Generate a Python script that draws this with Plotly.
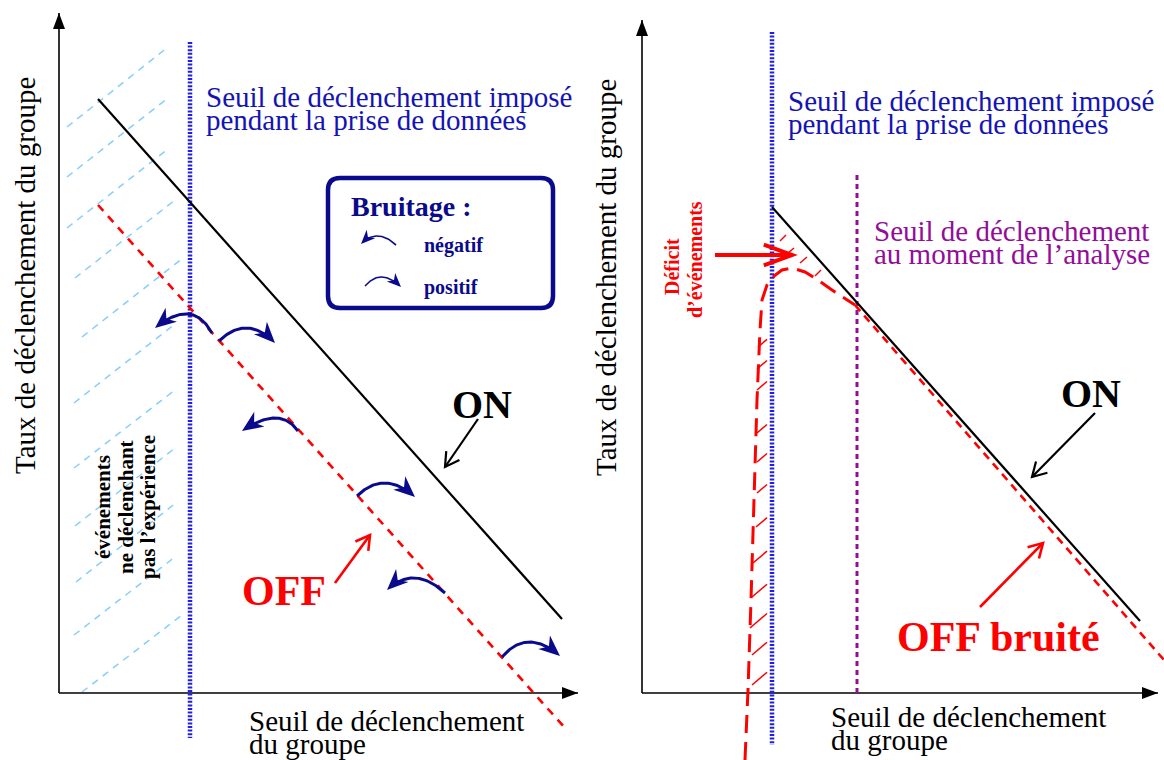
import numpy as np
import plotly.graph_objects as go

W, H = 1164, 760
SERIF = "Liberation Serif, Times New Roman, serif"
BLACK = "#000000"
RED = "#FF0000"
NAVY = "#0A0A8C"
BLUE_TXT = "#1414B4"
BLUE_DOT = "#1E1EEE"
SKY = "#87CEFA"
PURPLE = "#920E98"

# ================= DATA (schematic units, 1 unit = 1 px) =================
# ---- left panel ----
L_YAXIS_X = [59, 59]
L_YAXIS_Y = [693, 13]
L_XAXIS_X = [59, 578]
L_XAXIS_Y = [693, 693]
L_TRIG_X = [190, 190]
L_TRIG_Y = [42, 738]
L_ON_X = [98, 562]
L_ON_Y = [99, 619]
L_OFF_X = [98, 565]
L_OFF_Y = [205, 728]
HATCH_X0 = [67, 67, 67, 75, 82, 74, 74, 75, 76, 74, 82]
HATCH_Y0 = [127, 177, 228, 278, 337, 403, 468, 526, 582, 635, 692]
HATCH_X1 = [168, 168, 168, 175, 183, 175, 175, 175, 177, 175, 182]
HATCH_Y1 = [47, 98, 149, 200, 258, 324, 390, 448, 502, 557, 615]
# noise arrows: start on OFF line, mid (apex) point, arrow tip
NOISE_X0 = [212, 219, 298, 357, 445, 502]
NOISE_Y0 = [333, 341, 431, 496, 593, 657]
NOISE_XM = [188, 247, 275, 385, 415, 529]
NOISE_YM = [314, 328, 418, 483, 578, 642]
NOISE_X1 = [155, 275, 242, 415, 387, 560]
NOISE_Y1 = [328, 343, 431, 497, 590, 656]
# legend box and its two sample arrows
LEG_BOX = [328, 178, 553, 308]
LEG_X0 = [396, 365]
LEG_Y0 = [245, 286]
LEG_XM = [378, 382]
LEG_YM = [236, 277]
LEG_X1 = [361, 401]
LEG_Y1 = [244, 287]
# pointer arrows (from, to)
PTR_LEFT_ON = [(478, 419), (445, 467)]
PTR_LEFT_OFF = [(335, 583), (370, 535)]

# ---- right panel ----
R_YAXIS_X = [642, 642]
R_YAXIS_Y = [693, 20]
R_XAXIS_X = [642, 1158]
R_XAXIS_Y = [693, 693]
R_TRIG_X = [772, 772]
R_TRIG_Y = [32, 745]
R_ANA_X = [857, 857]
R_ANA_Y = [175, 697]
R_ON_X = [772, 1140]
R_ON_Y = [207, 621]
R_OFFC_X = [745, 748, 751, 754, 757, 760, 762, 767, 774, 782, 792, 805, 818, 832, 845, 855]
R_OFFC_Y = [760, 690, 600, 500, 400, 330, 300, 285, 276, 270, 268, 272, 280, 290, 298, 305]
R_OFFS_X = [855, 1164]
R_OFFS_Y = [305, 660]
DEF_Y0 = [347, 369, 390, 433, 462, 493, 527, 563, 597, 628, 655, 685]
DEF_X0 = [758, 757, 757, 757, 757, 757, 756, 753, 752, 750, 752, 752]
DEF_X1 = 767
TOP_HX0 = [780, 788, 800, 815]
TOP_HY0 = [241, 253, 263, 276]
TOP_HX1 = [786, 794, 807, 821]
TOP_HY1 = [235, 248, 257, 270]
PTR_RIGHT_ON = [(1095, 413), (1032, 477)]
PTR_RIGHT_OFF = [(980, 607), (1043, 543)]
DEFICIT_ARROW = [(715, 255), (792, 255)]

# ---- texts: (text, x, y, size, color, bold, angle, xanchor) ----
TEXTS = [
    ("Taux de déclenchement du groupe", 25, 276, 29, BLACK, False, -90, "center"),
    ("Taux de déclenchement du groupe", 606, 278, 29, BLACK, False, -90, "center"),
    ("Seuil de déclenchement imposé", 204, 97, 29, BLUE_TXT, False, 0, "left"),
    ("pendant la prise de données", 204, 120, 29, BLUE_TXT, False, 0, "left"),
    ("Seuil de déclenchement imposé", 786, 101, 29, BLUE_TXT, False, 0, "left"),
    ("pendant la prise de données", 786, 124, 29, BLUE_TXT, False, 0, "left"),
    ("Bruitage :", 349, 206, 28, NAVY, True, 0, "left"),
    ("négatif", 422, 245, 20, NAVY, True, 0, "left"),
    ("positif", 422, 287, 20, NAVY, True, 0, "left"),
    ("événements", 103, 507, 21, BLACK, True, -90, "center"),
    ("ne déclenchant", 126, 507, 21, BLACK, True, -90, "center"),
    ("pas l’expérience", 148, 507, 21, BLACK, True, -90, "center"),
    ("ON", 482, 404, 40, BLACK, True, 0, "center"),
    ("ON", 1091, 393, 40, BLACK, True, 0, "center"),
    ("OFF", 284, 591, 42, RED, True, 0, "center"),
    ("OFF bruité", 998, 637, 42, RED, True, 0, "center"),
    ("Seuil de déclenchement", 247, 721, 29, BLACK, False, 0, "left"),
    ("du groupe", 247, 744, 29, BLACK, False, 0, "left"),
    ("Seuil de déclenchement", 829, 717, 29, BLACK, False, 0, "left"),
    ("du groupe", 829, 740, 29, BLACK, False, 0, "left"),
    ("Seuil de déclenchement", 872, 231, 29, PURPLE, False, 0, "left"),
    ("au moment de l’analyse", 872, 254, 29, PURPLE, False, 0, "left"),
    ("Déficit", 672, 267, 20, RED, True, -90, "center"),
    ("d’événements", 695, 260, 20, RED, True, -90, "center"),
]

# ================= helpers =================
fig = go.Figure()
shapes = []


def line(xs, ys, color, width, dash="solid"):
    fig.add_trace(go.Scatter(x=list(xs), y=list(ys), mode="lines",
                             line=dict(color=color, width=width, dash=dash),
                             hoverinfo="skip", showlegend=False))


def pstr(points, close=False):
    s = "M " + " L ".join(f"{p[0]:.2f},{p[1]:.2f}" for p in points)
    return s + (" Z" if close else "")


def filled_head(tip, d, L, hw, color, notch=0.3):
    tip = np.asarray(tip, float)
    d = np.asarray(d, float)
    d = d / np.linalg.norm(d)
    n = np.array([-d[1], d[0]])
    b = tip - L * d
    pts = [tip, b + hw * n, tip - (1 - notch) * L * d, b - hw * n]
    shapes.append(dict(type="path", path=pstr(pts, True), fillcolor=color,
                       line=dict(width=0), xref="x", yref="y", layer="above"))


def open_head(tip, d, L, ang, color, width):
    tip = np.asarray(tip, float)
    d = np.asarray(d, float)
    d = d / np.linalg.norm(d)
    pts = []
    for s in (1, -1):
        a = np.deg2rad(ang) * s
        r = np.array([d[0] * np.cos(a) - d[1] * np.sin(a),
                      d[0] * np.sin(a) + d[1] * np.cos(a)])
        pts.append(tip - L * r)
    shapes.append(dict(type="path", path=pstr([pts[0], tip, pts[1]]),
                       line=dict(color=color, width=width), xref="x", yref="y",
                       layer="above"))


def pointer(seg, color, width, L=16, ang=30):
    (x0, y0), (x1, y1) = seg
    line([x0, x1], [y0, y1], color, width)
    open_head((x1, y1), (x1 - x0, y1 - y0), L, ang, color, width)


def curved_arrow(p0, pm, p2, color, width, L, hw):
    p0, pm, p2 = (np.asarray(p, float) for p in (p0, pm, p2))
    c = 2 * pm - (p0 + p2) / 2
    t = np.linspace(0, 1, 60)[:, None]
    pts = (1 - t) ** 2 * p0 + 2 * (1 - t) * t * c + t ** 2 * p2
    keep = np.linalg.norm(pts - p2, axis=1) > 0.6 * L
    keep[0] = True
    line(pts[keep, 0], pts[keep, 1], color, width)
    filled_head(p2, p2 - c, L, hw, color)


# ================= left panel =================
for x0, y0, x1, y1 in zip(HATCH_X0, HATCH_Y0, HATCH_X1, HATCH_Y1):
    line([x0, x1], [y0, y1], SKY, 1.5, "7px,6px")

line(L_YAXIS_X, L_YAXIS_Y, BLACK, 1.6)
line(L_XAXIS_X, L_XAXIS_Y, BLACK, 1.6)
filled_head((L_YAXIS_X[1], L_YAXIS_Y[1]), (0, -1), 16, 6, BLACK, notch=0.0)
filled_head((L_XAXIS_X[1], L_XAXIS_Y[1]), (1, 0), 16, 6, BLACK, notch=0.0)

line(L_TRIG_X, L_TRIG_Y, BLUE_DOT, 4.5, "2px,1.6px")
line(L_ON_X, L_ON_Y, BLACK, 2.2)
line(L_OFF_X, L_OFF_Y, RED, 2.6, "8px,7px")

for i in range(len(NOISE_X0)):
    curved_arrow((NOISE_X0[i], NOISE_Y0[i]), (NOISE_XM[i], NOISE_YM[i]),
                 (NOISE_X1[i], NOISE_Y1[i]), NAVY, 3, 21, 9)

bx0, by0, bx1, by1 = LEG_BOX
r = 12
shapes.append(dict(
    type="path",
    path=(f"M {bx0 + r},{by0} L {bx1 - r},{by0} Q {bx1},{by0} {bx1},{by0 + r} "
          f"L {bx1},{by1 - r} Q {bx1},{by1} {bx1 - r},{by1} L {bx0 + r},{by1} "
          f"Q {bx0},{by1} {bx0},{by1 - r} L {bx0},{by0 + r} Q {bx0},{by0} {bx0 + r},{by0} Z"),
    line=dict(color=NAVY, width=4.5), fillcolor="white", xref="x", yref="y",
    layer="below"))
for i in range(len(LEG_X0)):
    curved_arrow((LEG_X0[i], LEG_Y0[i]), (LEG_XM[i], LEG_YM[i]),
                 (LEG_X1[i], LEG_Y1[i]), NAVY, 1.6, 14, 6)

pointer(PTR_LEFT_ON, BLACK, 2.2)
pointer(PTR_LEFT_OFF, RED, 2.6)

# ================= right panel =================
line(R_YAXIS_X, R_YAXIS_Y, BLACK, 1.6)
line(R_XAXIS_X, R_XAXIS_Y, BLACK, 1.6)
filled_head((R_YAXIS_X[1], R_YAXIS_Y[1]), (0, -1), 16, 6, BLACK, notch=0.0)
filled_head((R_XAXIS_X[1], R_XAXIS_Y[1]), (1, 0), 16, 6, BLACK, notch=0.0)

line(R_TRIG_X, R_TRIG_Y, BLUE_DOT, 4.5, "2px,1.6px")
line(R_ANA_X, R_ANA_Y, PURPLE, 3, "5px,4px")

for x0, y0 in zip(DEF_X0, DEF_Y0):
    line([x0, DEF_X1], [y0, y0 - (DEF_X1 - x0) * 0.85], RED, 1.5)
for x0, y0, x1, y1 in zip(TOP_HX0, TOP_HY0, TOP_HX1, TOP_HY1):
    line([x0, x1], [y0, y1], RED, 1.5)

line(R_ON_X, R_ON_Y, BLACK, 2.2)
line(R_OFFC_X, R_OFFC_Y, RED, 3, "18px,9px")
line(R_OFFS_X, R_OFFS_Y, RED, 2.6, "8px,6px")

pointer(PTR_RIGHT_ON, BLACK, 2.2)
pointer(PTR_RIGHT_OFF, RED, 2.6)
pointer(DEFICIT_ARROW, RED, 4, L=30, ang=20)

# ================= texts =================
annotations = []
for txt, x, y, size, color, bold, ang, xa in TEXTS:
    annotations.append(dict(
        text=f"<b>{txt}</b>" if bold else txt, x=x, y=y, xref="x", yref="y",
        showarrow=False, textangle=ang, xanchor=xa, yanchor="middle",
        font=dict(family=SERIF, size=size, color=color)))

fig.update_layout(
    width=W, height=H, margin=dict(l=0, r=0, t=0, b=0),
    paper_bgcolor="white", plot_bgcolor="white", showlegend=False,
    xaxis=dict(range=[0, W], visible=False, fixedrange=True),
    yaxis=dict(range=[H, 0], visible=False, fixedrange=True),
    shapes=shapes, annotations=annotations,
)

fig.write_html(
    "out.html",
    config={"displayModeBar": False, "staticPlot": True},
    post_script="document.body.style.margin='0px';document.body.style.overflow='hidden';",
)
